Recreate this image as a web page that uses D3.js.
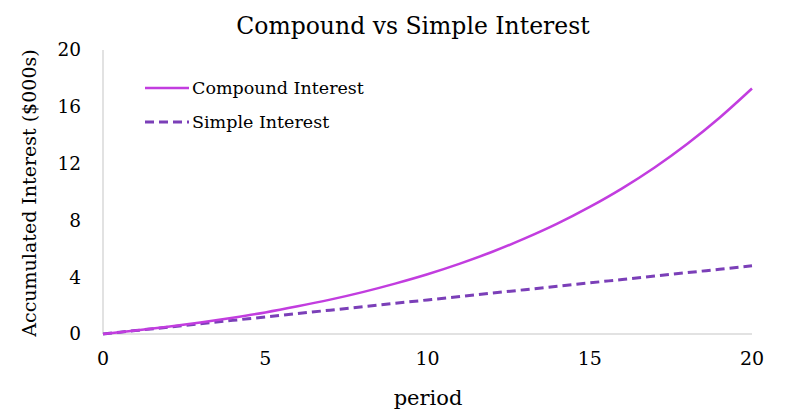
<!DOCTYPE html>
<html>
<head>
<meta charset="utf-8">
<title>Compound vs Simple Interest</title>
<script src="https://d3js.org/d3.v7.min.js"></script>
<style>
    body { margin: 0; background: #fff; }
    svg text { font-family: "DejaVu Serif", "Liberation Serif", serif; fill: #000; }
</style>
</head>
<body>
<div id="chart"></div>
<script>
    // periods 0..20, interest in $000s
    const periods = [0, 1, 2, 3, 4, 5, 6, 7, 8, 9, 10, 11, 12, 13, 14, 15, 16, 17, 18, 19, 20];
    const compound = [0, 0.24, 0.51, 0.81, 1.15, 1.52, 1.95, 2.42, 2.95, 3.55, 4.21,
        4.96, 5.79, 6.73, 7.77, 8.95, 10.26, 11.73, 13.38, 15.23, 17.29];
    const simple = [0, 0.24, 0.48, 0.72, 0.96, 1.2, 1.44, 1.68, 1.92, 2.16, 2.4,
        2.64, 2.88, 3.12, 3.36, 3.6, 3.84, 4.08, 4.32, 4.56, 4.8];
    const xTicks = [0, 5, 10, 15, 20];
    const yTicks = [0, 4, 8, 12, 16, 20];
    const seriesNames = ["Compound Interest", "Simple Interest"];

    const width = 789, height = 418;
    const margin = { top: 50, right: 37, bottom: 84, left: 103 };

    const svg = d3.select("#chart").append("svg")
        .attr("width", width)
        .attr("height", height);

    const x = d3.scaleLinear().domain([0, 20]).range([margin.left, width - margin.right]);
    const y = d3.scaleLinear().domain([0, 20]).range([height - margin.bottom, margin.top]);

    // axis lines (no ticks)
    svg.append("line")
        .attr("x1", x(0)).attr("x2", x(0))
        .attr("y1", y(0)).attr("y2", y(20))
        .attr("stroke", "#d9d9d9").attr("stroke-width", 1.5);
    svg.append("line")
        .attr("x1", x(0)).attr("x2", x(20))
        .attr("y1", y(0)).attr("y2", y(0))
        .attr("stroke", "#d9d9d9").attr("stroke-width", 1.5);

    // tick labels
    svg.selectAll(".ytick").data(yTicks).enter().append("text")
        .attr("class", "ytick")
        .attr("x", 81)
        .attr("y", d => y(d))
        .attr("dy", "0.35em")
        .attr("text-anchor", "end")
        .style("font-size", "18.5px")
        .text(d => d);

    svg.selectAll(".xtick").data(xTicks).enter().append("text")
        .attr("class", "xtick")
        .attr("x", d => x(d))
        .attr("y", 365)
        .attr("text-anchor", "middle")
        .style("font-size", "19px")
        .text(d => d);

    // titles
    svg.append("text")
        .attr("x", 413).attr("y", 34)
        .attr("text-anchor", "middle")
        .style("font-size", "23.5px")
        .text("Compound vs Simple Interest");

    svg.append("text")
        .attr("x", 428).attr("y", 405)
        .attr("text-anchor", "middle")
        .style("font-size", "21px")
        .text("period");

    svg.append("text")
        .attr("transform", "translate(36,193) rotate(-90)")
        .attr("text-anchor", "middle")
        .style("font-size", "19px")
        .text("Accumulated Interest ($000s)");

    const line = d3.line()
        .x((d, i) => x(periods[i]))
        .y(d => y(d))
        .curve(d3.curveMonotoneX);

    svg.append("path")
        .datum(simple)
        .attr("d", line)
        .attr("fill", "none")
        .attr("stroke", "#7b3fb8")
        .attr("stroke-width", 3)
        .attr("stroke-dasharray", "9,5");

    svg.append("path")
        .datum(compound)
        .attr("d", line)
        .attr("fill", "none")
        .attr("stroke", "#c23ddf")
        .attr("stroke-width", 2.5);

    // legend
    const legend = svg.append("g");
    const legendColors = ["#c23ddf", "#7b3fb8"];
    const legendDash = [null, "9,5"];
    seriesNames.forEach((name, i) => {
        const ly = 88 + i * 34;
        legend.append("line")
            .attr("x1", 145).attr("x2", 189)
            .attr("y1", ly).attr("y2", ly)
            .attr("stroke", legendColors[i])
            .attr("stroke-width", i ? 3 : 2.5)
            .attr("stroke-dasharray", legendDash[i]);
        legend.append("text")
            .attr("x", 192).attr("y", ly)
            .attr("dy", "0.35em")
            .style("font-size", "17.5px")
            .text(name);
    });
</script>
</body>
</html>
